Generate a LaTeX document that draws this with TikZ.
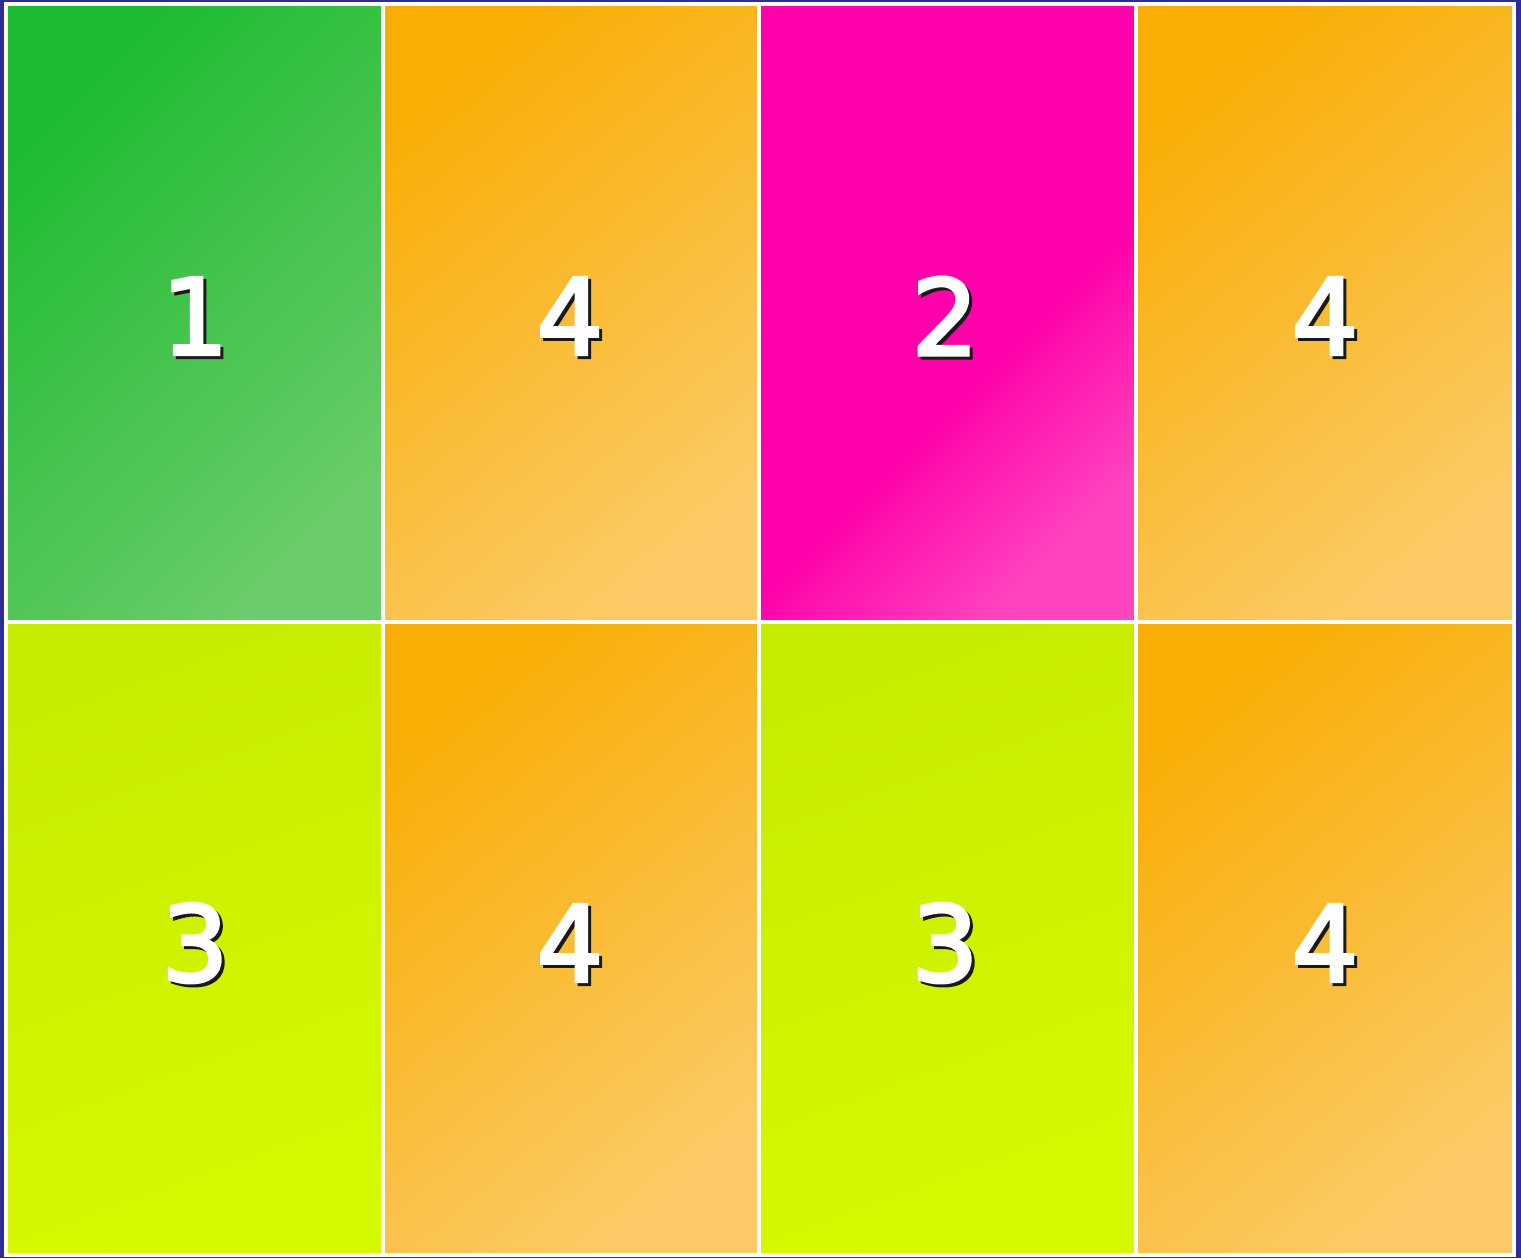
\documentclass[tikz,border=0pt]{standalone}
\usepackage{fontspec}
\setmainfont{DejaVu Sans}
\newfontfamily\digitfont[FakeBold=3]{DejaVu Sans}
\usepackage{tikz}
\usetikzlibrary{shadings}

\definecolor{frameblue}{HTML}{2D2D99}
\definecolor{greenA}{HTML}{1DBB2F}
\definecolor{greenB}{HTML}{6ACC6A}
\definecolor{orangeA}{HTML}{F8AE05}
\definecolor{orangeB}{HTML}{FCCA66}
\definecolor{limeA}{HTML}{C8EC00}
\definecolor{limeB}{HTML}{D6F800}
\definecolor{pinkA}{HTML}{FF00AA}
\definecolor{pinkB}{HTML}{FF44BE}
\definecolor{shadowgray}{HTML}{1A1A1A}

\pgfdeclareverticalshading{pinkfade}{100bp}{color(0bp)=(pinkB); color(25bp)=(pinkB); color(40bp)=(pinkA!80!pinkB); color(43bp)=(pinkA); color(100bp)=(pinkA)}

\tikzset{
  cellbox/.style={draw=white, line width=0.9pt},
  greencell/.style={cellbox, top color=greenA, bottom color=greenB, shading angle=45},
  orangecell/.style={cellbox, top color=orangeA, bottom color=orangeB, shading angle=40},
  limecell/.style={cellbox, top color=limeA, bottom color=limeB, shading angle=20},
  pinkcell/.style={cellbox, shading=pinkfade, shading angle=45},
  digit/.style={font=\digitfont\fontsize{30}{30}\selectfont, text=white, inner sep=0pt},
  digitshade/.style={font=\digitfont\fontsize{30}{30}\selectfont, text=shadowgray, inner sep=0pt}
}

\begin{document}
\begin{tikzpicture}
% frame
\fill[frameblue] (0,0) rectangle (15.21,-12.58);
\useasboundingbox (0,0) rectangle (15.21,-12.58);

% top row
\shade[greencell]  (0.06,-0.04) rectangle (3.83,-6.22);
\shade[orangecell] (3.83,-0.04) rectangle (7.59,-6.22);
\shade[pinkcell]   (7.59,-0.04) rectangle (11.36,-6.22);
\shade[orangecell] (11.36,-0.04) rectangle (15.14,-6.22);

% bottom row
\shade[limecell]   (0.06,-6.22) rectangle (3.83,-12.55);
\shade[orangecell] (3.83,-6.22) rectangle (7.59,-12.55);
\shade[limecell]   (7.59,-6.22) rectangle (11.36,-12.55);
\shade[orangecell] (11.36,-6.22) rectangle (15.14,-12.55);

% numbers (shadow first)
\node[digitshade] at (1.98,-3.19) {1};  \node[digit] (n1) at (1.95,-3.16) {1};
\node[digitshade] at (5.73,-3.19) {4};  \node[digit] (n4a) at (5.70,-3.16) {4};
\node[digitshade] at (9.48,-3.19) {2};  \node[digit] (n2) at (9.45,-3.16) {2};
\node[digitshade] at (13.28,-3.19) {4}; \node[digit] (n4b) at (13.25,-3.16) {4};

\node[digitshade] at (1.98,-9.46) {3};  \node[digit] (n3a) at (1.95,-9.43) {3};
\node[digitshade] at (5.73,-9.46) {4};  \node[digit] (n4c) at (5.70,-9.43) {4};
\node[digitshade] at (9.48,-9.46) {3};  \node[digit] (n3b) at (9.45,-9.43) {3};
\node[digitshade] at (13.28,-9.46) {4}; \node[digit] (n4d) at (13.25,-9.43) {4};
\end{tikzpicture}
\end{document}
